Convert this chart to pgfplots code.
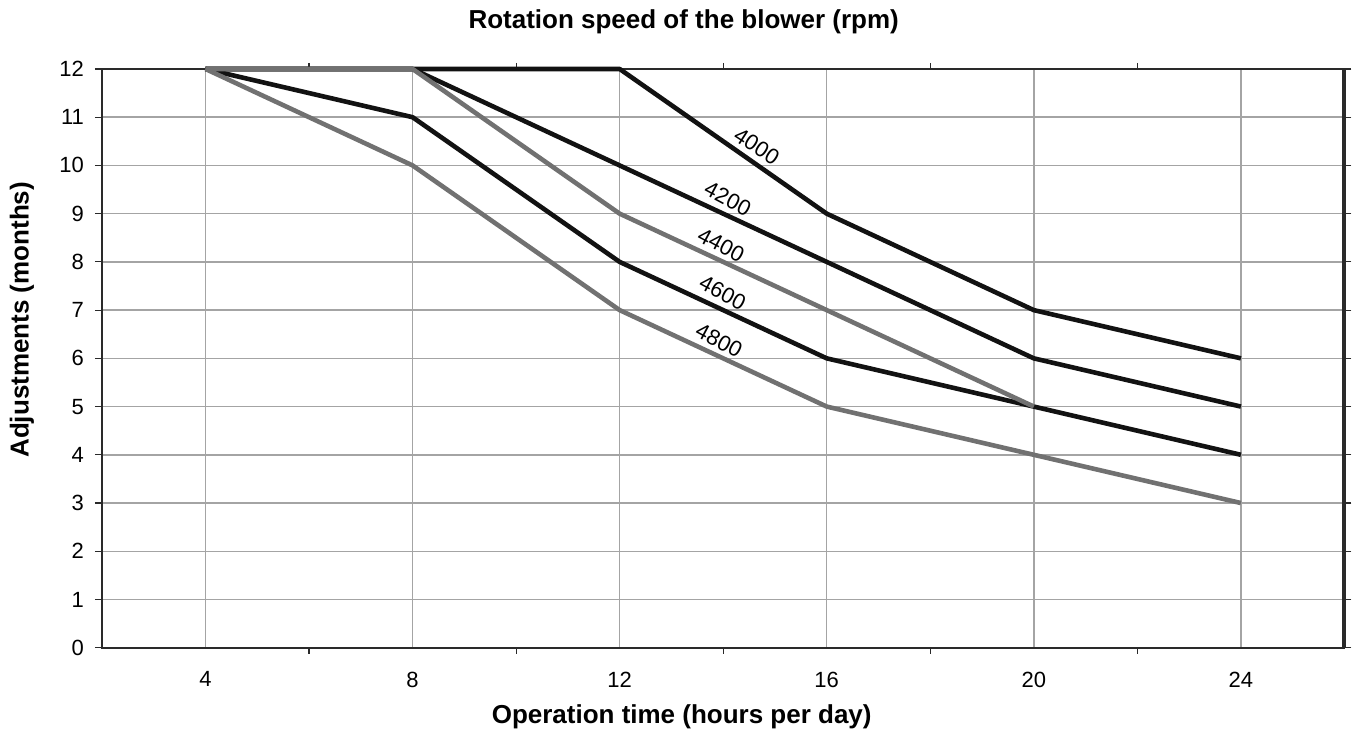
\documentclass[border=0pt]{standalone}
\usepackage{fontspec}
\setmainfont{Liberation Sans}
\usepackage{pgfplots}
\pgfplotsset{compat=1.18}
\definecolor{darkline}{HTML}{121212}
\definecolor{grayline}{HTML}{717171}
\definecolor{gridgray}{HTML}{A4A4A4}
\definecolor{framecol}{HTML}{2A2A2A}

\begin{document}
\begin{tikzpicture}
% page size: 1352x740 px at 0.5pt per px
\path (-51pt,-46pt) rectangle (625pt,324pt);
\begin{axis}[
  at={(0,0)}, anchor=south west,
  scale only axis, width=621.5pt, height=289.5pt,
  xmin=2, xmax=26, ymin=0, ymax=12,
  xtick={4,8,...,24}, minor xtick={6,10,...,22},
  ytick={0,1,...,12},
  grid=major,
  major grid style={gridgray, line width=0.75pt},
  axis line style={framecol, line width=1pt},
  tick align=outside,
  major tick length=3.5pt, minor tick length=3pt,
  tick style={framecol, line width=0.6pt},
  xtick style={draw=none},
  minor x tick style={draw=framecol, line width=0.6pt},
  tick label style={font=\fontsize{11}{13}\selectfont},
  /pgf/number format/assume math mode=true,
  xticklabel style={yshift=-5pt},
  yticklabel style={xshift=-2pt},
  clip=false,
  every axis plot/.append style={line width=2.3pt, line join=round},
]
\addplot[darkline] coordinates {(4,12) (8,12) (12,12) (16,9) (20,7) (24,6)};
\addplot[darkline] coordinates {(4,12) (8,12) (12,10) (16,8) (20,6) (24,5)};
\addplot[darkline] coordinates {(4,12) (8,11) (12,8) (16,6) (20,5) (24,4)};
\addplot[grayline] coordinates {(4,12) (8,12) (12,9) (16,7) (20,5)};
\addplot[grayline] coordinates {(4,12) (8,10) (12,7) (16,5) (20,4) (24,3)};

\node[rotate=-33, font=\fontsize{11}{13}\selectfont] at (axis cs:14.65,10.40) {4000};
\node[rotate=-28, font=\fontsize{11}{13}\selectfont] at (axis cs:14.09,9.31) {4200};
\node[rotate=-28, font=\fontsize{11}{13}\selectfont] at (axis cs:13.96,8.35) {4400};
\node[rotate=-28, font=\fontsize{11}{13}\selectfont] at (axis cs:13.99,7.36) {4600};
\node[rotate=-28, font=\fontsize{11}{13}\selectfont] at (axis cs:13.92,6.37) {4800};
\end{axis}
\draw[framecol, line width=2pt] (621.5pt,0pt) -- (621.5pt,289.5pt);
\node[font=\bfseries\fontsize{13}{15}\selectfont] at (291pt,313pt) {Rotation speed of the blower (rpm)};
\node[font=\bfseries\fontsize{13}{15}\selectfont] at (290pt,-34.5pt) {Operation time (hours per day)};
\node[rotate=90, font=\bfseries\fontsize{13}{15}\selectfont] at (-40pt,164pt) {Adjustments (months)};
\end{tikzpicture}
\end{document}
